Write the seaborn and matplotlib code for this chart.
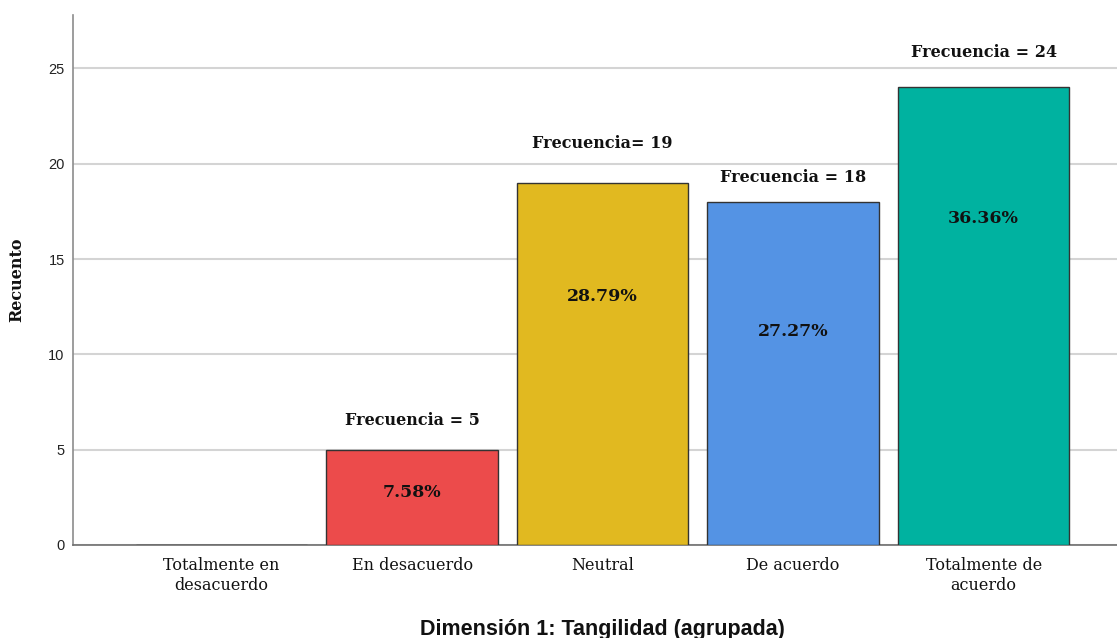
import matplotlib
matplotlib.use("Agg")
import matplotlib.pyplot as plt
import seaborn as sns
import pandas as pd

categorias = ["Totalmente en\ndesacuerdo", "En desacuerdo", "Neutral", "De acuerdo", "Totalmente de\nacuerdo"]
recuento = [0, 5, 19, 18, 24]
porcentajes = ["", "7.58%", "28.79%", "27.27%", "36.36%"]
etiquetas_frec = ["", "Frecuencia = 5", "Frecuencia= 19", "Frecuencia = 18", "Frecuencia = 24"]
colores = ["#EC4B4B", "#EC4B4B", "#E1B920", "#5493E4", "#00B2A0"]

# vertical positions of the annotations (data units)
y_frec = [0, 6.55, 21.05, 19.25, 25.85]
y_pct = [0, 2.75, 13.05, 11.2, 17.1]

SERIF = "DejaVu Serif"
SANS = "Liberation Sans"

sns.set_style("white")
df = pd.DataFrame({"cat": categorias, "n": recuento})

fig = plt.figure(figsize=(11.17, 6.38), dpi=100)
ax = fig.add_axes([0.0654, 0.1458, 0.9346, 0.8307])

sns.barplot(data=df, x="cat", y="n", hue="cat", palette=colores, legend=False,
            saturation=1, width=0.9, edgecolor="#333333", linewidth=1.0, ax=ax, zorder=3)

ax.set_ylim(0, 27.8)
ax.set_xlim(-0.78, 4.70)
ax.set_yticks([0, 5, 10, 15, 20, 25])
ax.yaxis.grid(True, color="#d4d4d4", linewidth=1.5, zorder=0)
ax.set_axisbelow(True)

for s in ["top", "right"]:
    ax.spines[s].set_visible(False)
ax.spines["left"].set_color("#8c8c8c")
ax.spines["bottom"].set_color("#6e6e6e")
ax.spines["left"].set_linewidth(1.2)
ax.spines["bottom"].set_linewidth(1.2)

ax.tick_params(axis="y", length=0, pad=6)
ax.tick_params(axis="x", length=0, pad=9)
for lbl in ax.get_yticklabels():
    lbl.set_fontfamily(SANS)
    lbl.set_fontsize(10.5)
    lbl.set_color("#222222")
for lbl in ax.get_xticklabels():
    lbl.set_fontfamily(SERIF)
    lbl.set_fontsize(11.5)
    lbl.set_linespacing(1.2)
    lbl.set_color("#111111")

ax.set_ylabel("Recuento", family=SERIF, fontsize=11.5, fontweight="bold", color="#111111")
ax.yaxis.set_label_coords(-0.046, 0.5)
ax.set_xlabel("Dimensión 1: Tangilidad (agrupada)", family=SANS, fontsize=15.5,
              fontweight="bold", color="#111111")
ax.xaxis.set_label_coords(0.507, -0.14)

for i, (t, y) in enumerate(zip(etiquetas_frec, y_frec)):
    if t:
        ax.text(i, y, t, ha="center", va="center", family=SERIF,
                fontsize=11.5, fontweight="bold", color="#111111")
for i, (t, y) in enumerate(zip(porcentajes, y_pct)):
    if t:
        ax.text(i, y, t, ha="center", va="center", family=SERIF,
                fontsize=12.5, fontweight="bold", color="#111111", zorder=5)

fig.savefig("out.png", dpi=100)
